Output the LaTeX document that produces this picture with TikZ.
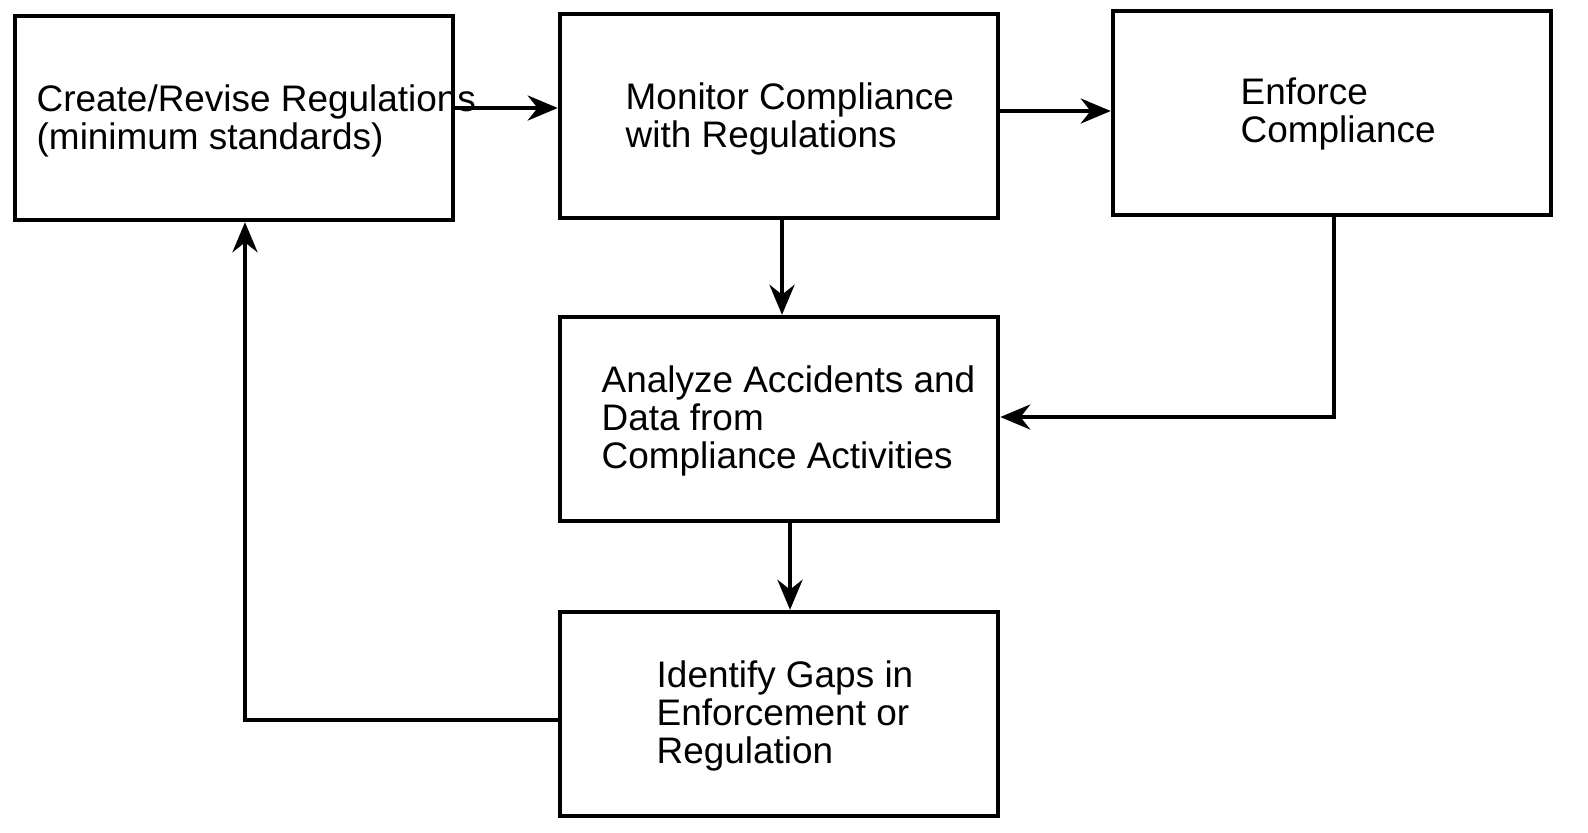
\documentclass[tikz,border=0pt]{standalone}
\usepackage{fontspec}
\setmainfont{Liberation Sans}
\usetikzlibrary{arrows.meta,positioning}

\begin{document}
\begin{tikzpicture}[
        x=0.01cm, y=-0.01cm,
        box/.style={rectangle, draw, line width=1.2pt, minimum width=4.38cm,
            minimum height=2.04cm, inner sep=0pt},
        txt/.style={anchor=north west, align=left, inner sep=0pt,
            font=\fontsize{10.5}{10.8}\selectfont},
        flow/.style={-{Stealth[length=0.3cm, width=0.25cm]}, line width=1.2pt}
    ]
        \useasboundingbox (0,0) rectangle (1588,832);

        \node[box] (create) at (234,118) {};
        \node[box] (monitor) at (779,116) {};
        \node[box] (enforce) at (1332,113) {};
        \node[box] (analyze) at (779,419) {};
        \node[box] (gaps) at (779,714) {};

        \node[txt] (createtxt) at (36,84) {Create/Revise Regulations\\(minimum standards)};
        \node[txt] (monitortxt) at (625,82) {Monitor Compliance\\with Regulations};
        \node[txt] (enforcetxt) at (1240,77) {Enforce\\Compliance};
        \node[txt] (analyzetxt) at (601,365) {Analyze Accidents and\\Data from\\Compliance Activities};
        \node[txt] (gapstxt) at (656,660) {Identify Gaps in\\Enforcement or\\Regulation};

        \coordinate (c1) at (1334,417);
        \coordinate (c2) at (245,720);

        \draw[flow] (create.east |- 0,108) -- (monitor.west |- 0,108);
        \draw[flow] (monitor.east |- 0,111) -- (enforce.west |- 0,111);
        \draw[flow] (monitor.south -| 782,0) -- (analyze.north -| 782,0);
        \draw[flow] (enforce.south -| c1) -- (c1) -- (analyze.east |- c1);
        \draw[flow] (analyze.south -| 790,0) -- (gaps.north -| 790,0);
        \draw[flow] (gaps.west |- c2) -- (c2) -- (create.south -| c2);
    \end{tikzpicture}
\end{document}
